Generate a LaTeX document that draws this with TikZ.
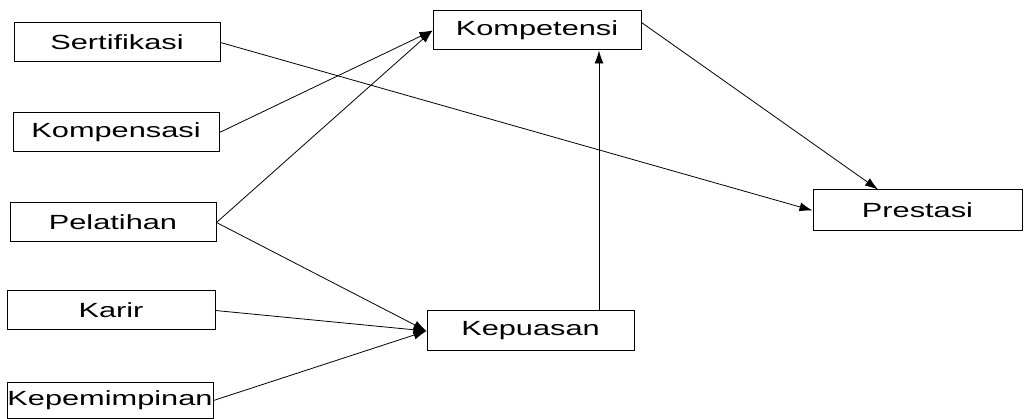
\documentclass[tikz,border=0pt]{standalone}
\usepackage{fontspec}
\newfontfamily\labelfont[FakeStretch=1.5]{Liberation Sans}
\usetikzlibrary{arrows.meta,calc}
\begin{document}
\begin{tikzpicture}[x=1pt,y=-1pt,
  box/.style={draw,line width=1pt,inner sep=0pt,minimum width=206pt,minimum height=39pt,font=\labelfont\fontsize{20.5}{22}\selectfont},
  link/.style={line width=0.8pt,-{Latex[length=13pt,width=9pt]}}]
\useasboundingbox (0,0) rectangle (1026,419);
\node[box] (sert) at (117,42.5) {Sertifikasi};
\node[box] (komp) at (116,132.5) {Kompensasi};
\node[box] (pel) at (113,222.5) {Pelatihan};
\node[box,minimum width=208pt] (kar) at (111,310.5) {Karir};
\node[box,minimum height=36pt] (kep) at (110,400.5) {Kepemimpinan};
\node[box,minimum width=208pt] (kom) at (537,30.5) {Kompetensi};
\node[box,minimum width=207pt,minimum height=40pt] (kpu) at (530.5,331) {Kepuasan};
\node[box,minimum width=209pt,minimum height=41pt] (pre) at (917.5,210.5) {Prestasi};
\coordinate (vx) at (599,0);
\coordinate (pt) at (878,0);
\draw[link] (sert.east) -- (pre.west);
\draw[link] (komp.east) -- (kom.west);
\draw[link] (pel.east) -- (kom.west);
\draw[link] (pel.east) -- (kpu.west);
\draw[link] (kar.east) -- (kpu.west);
\draw[link] (kep.east) -- (kpu.west);
\draw[link] (kpu.north -| vx) -- (kom.south -| vx);
\draw[link] ($(kom.east)+(0,-8)$) -- (pre.north -| pt);
\end{tikzpicture}
\end{document}
